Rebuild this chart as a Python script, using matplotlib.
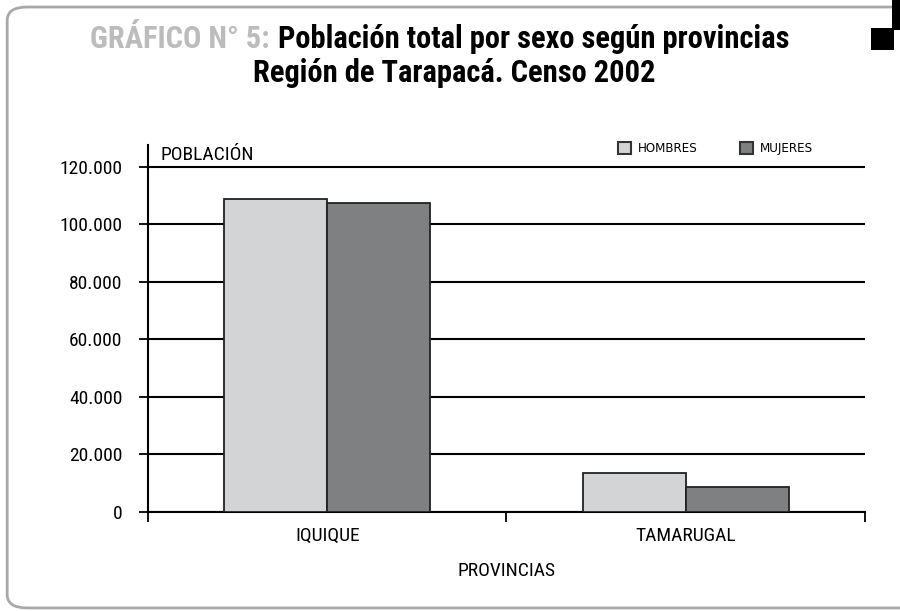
import matplotlib.pyplot as plt
import matplotlib.patches as mpatches
from matplotlib.ticker import FuncFormatter, FixedLocator, NullFormatter
import numpy as np

provincias = ["IQUIQUE", "TAMARUGAL"]
hombres = [108900, 13600]
mujeres = [107500, 8700]
series_names = ["HOMBRES", "MUJERES"]

cond = ['Roboto Condensed', 'Archivo Narrow', 'DejaVu Sans']
plt.rcParams['font.family'] = cond
plt.rcParams['font.stretch'] = 'condensed'

fig = plt.figure(figsize=(9, 6.11), dpi=100)

# rounded frame, open on the right side (runs off the page)
frame = mpatches.FancyBboxPatch((0.008, 0.005), 1.05, 0.9835,
                                boxstyle="round,pad=0,rounding_size=0.022",
                                transform=fig.transFigure, fill=False,
                                edgecolor="#a8a8a8", linewidth=2, zorder=1)
fig.patches.append(frame)
# black mark top right
fig.patches.append(mpatches.Rectangle((0.968, 0.918), 0.0256, 0.036, transform=fig.transFigure,
                                      facecolor="black", edgecolor="none", zorder=5))
fig.patches.append(mpatches.Rectangle((0.9915, 0.951), 0.0085, 0.049, transform=fig.transFigure,
                                      facecolor="black", edgecolor="none", zorder=5))

ax = fig.add_axes([0.1644, 0.162, 0.7967, 0.6007])

x = np.arange(len(provincias))
w = 0.287
ax.bar(x - w / 2, hombres, w, color="#d3d4d6", edgecolor="#222222", linewidth=1.3, label=series_names[0], zorder=3)
ax.bar(x + w / 2, mujeres, w, color="#7f8082", edgecolor="#222222", linewidth=1.3, label=series_names[1], zorder=3)

ax.set_xlim(-0.5, 1.5)
ax.set_ylim(0, 127600)
ax.set_yticks(np.arange(0, 120001, 20000))
ax.yaxis.set_major_formatter(FuncFormatter(lambda v, p: f"{int(v):,}".replace(",", ".")))
ax.grid(axis="y", color="black", linewidth=1.5, zorder=1)
ax.tick_params(axis="y", length=6.5, width=1.3, labelsize=14, pad=12)

ax.xaxis.set_major_locator(FixedLocator([-0.5, 0.5, 1.5]))
ax.xaxis.set_major_formatter(NullFormatter())
ax.xaxis.set_minor_locator(FixedLocator(x))
ax.set_xticklabels(provincias, minor=True)
ax.tick_params(axis="x", which="major", length=7, width=1.3)
ax.tick_params(axis="x", which="minor", length=0, labelsize=14, pad=11)

for s in ["top", "right"]:
    ax.spines[s].set_visible(False)
ax.spines["left"].set_linewidth(1.5)
ax.spines["bottom"].set_linewidth(1.5)

ax.set_xlabel("PROVINCIAS", fontsize=14, labelpad=12)
ax.text(0.017, 0.972, "POBLACIÓN", transform=ax.transAxes, fontsize=14, va="center", ha="left")

leg = fig.legend(loc="center", bbox_to_anchor=(0.795, 0.757), ncol=2, frameon=False,
                 prop={"family": "DejaVu Sans", "size": 9.5},
                 handlelength=1.0, handleheight=1.0, columnspacing=3.2, handletextpad=0.5)
for h in leg.legend_handles:
    h.set_edgecolor("#333333")
    h.set_linewidth(1.5)

t1 = fig.text(0.1, 0.936, "GRÁFICO N° 5:", fontsize=22, fontweight="heavy", color="#bcbcbc",
              va="center", ha="left")
fig.canvas.draw()
t1_right = t1.get_window_extent().x1 / fig.bbox.width
fig.text(t1_right + 0.009, 0.936, "Población total por sexo según provincias", fontsize=22, fontweight="heavy",
         color="black", va="center", ha="left")
fig.text(0.505, 0.880, "Región de Tarapacá. Censo 2002", fontsize=22, fontweight="heavy", color="black",
         va="center", ha="center")

fig.savefig("out.png", dpi=100)
